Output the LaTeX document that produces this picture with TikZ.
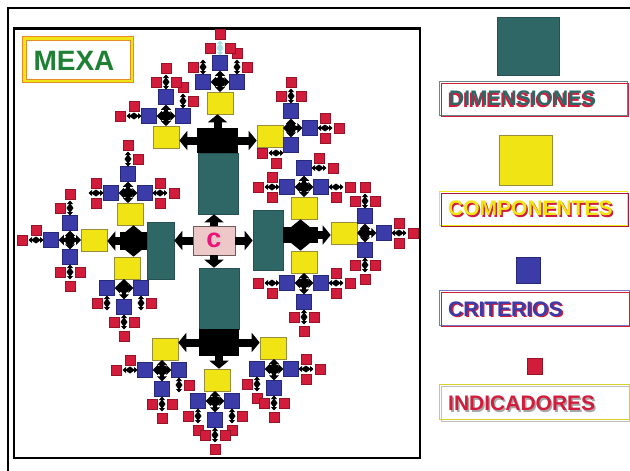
\documentclass[tikz,border=0pt]{standalone}
\usepackage{fontspec}
\setmainfont{Liberation Sans}
\usetikzlibrary{calc,arrows.meta}
\definecolor{tealc}{RGB}{46,103,101}
\definecolor{tealb}{RGB}{40,80,80}
\definecolor{yellowc}{RGB}{240,228,20}
\definecolor{yelb}{RGB}{150,140,60}
\definecolor{bluec}{RGB}{60,60,168}
\definecolor{blub}{RGB}{40,40,120}
\definecolor{redc}{RGB}{210,28,60}
\definecolor{redb}{RGB}{150,20,40}
\definecolor{pinkc}{RGB}{236,200,200}
\definecolor{pinkb}{RGB}{110,90,90}
\definecolor{magc}{RGB}{235,20,120}
\definecolor{mexag}{RGB}{30,128,50}
\definecolor{orangec}{RGB}{232,140,40}
\definecolor{cyanc}{RGB}{170,225,230}

\newcommand\comp[6]{%
  \node[yel] (#1y) at (#2,#3) {};
  \coordinate (#1c) at ($(#1y.center)+(#4:#6)+(#4+90:#5)$);
  \node[blu] (#1a) at ($(#1c)+(#4+90:17)$) {};
  \node[blu] (#1b) at ($(#1c)+(#4-90:17)$) {};
  \node[blu] (#1f) at ($(#1c)+(#4:19)$) {};
  \pgfmathsetmacro\backlen{#6-13*abs(cos(#4))-11*abs(sin(#4))}%
  \draw[crs] (#1c) -- (#1a);
  \draw[crs] (#1c) -- (#1b);
  \draw[crs] (#1c) -- (#1f);
  \draw[crs] (#1c) -- ++(#4+180:\backlen);
  \fill (#1c) circle[radius=5.5pt];
}
\newcommand\grp[4][black]{%
  \draw[ind,#1] ($(#2)+(#3:7.5)$) -- ($(#2)+(#3:22.5)$);
  \fill[#1] ($(#2)+(#3:10)$) -- ($(#2)+(#3:15)+(#3+90:3.5)$) -- ($(#2)+(#3:20)$) -- ($(#2)+(#3:15)+(#3-90:3.5)$) -- cycle;
  \foreach \k in {#4} {
    \pgfmathsetmacro\rr{ifthenelse(\k==0,29,15)}
    \node[redsq] (#2r\k) at ($(#2)+(#3:\rr)+(#3+90:10*\k)$) {};
  }
}

\begin{document}
\begin{tikzpicture}[x=1pt,y=-1pt,
  yel/.style={rectangle, draw=yelb, line width=0.6pt, fill=yellowc, minimum width=26pt, minimum height=22pt, inner sep=0pt},
  blu/.style={rectangle, draw=blub, line width=0.5pt, fill=bluec, minimum width=15pt, minimum height=15pt, inner sep=0pt},
  redsq/.style={rectangle, draw=redb, line width=0.4pt, fill=redc, minimum width=10pt, minimum height=10pt, inner sep=0pt},
  dim/.style={rectangle, draw=tealb, line width=0.6pt, fill=tealc, inner sep=0pt},
  head/.style={rectangle, fill=black, inner sep=0pt},
  blk/.style={line width=8pt, -{Triangle[width=19pt,length=8pt]}},
  crs/.style={line width=4pt, -{Triangle[width=10pt,length=5pt]}},
  ind/.style={line width=1.8pt, {Triangle[width=6pt,length=3.5pt]}-{Triangle[width=6pt,length=3.5pt]}},
  lbl/.style={anchor=west, inner sep=0pt, font=\fontsize{21pt}{21pt}\selectfont\bfseries},
]
\useasboundingbox (0,0) rectangle (630,471);
\fill[white] (0,0) rectangle (630,471);

% frames
\draw[line width=2.2pt] (7,8) -- (630,8);
\draw[line width=2.2pt] (8,8) -- (8,471);
\draw[line width=2.5pt] (14,28.5) rectangle (420,458);

% MEXA
\draw[orangec, line width=0.8pt] (22.5,36.5) rectangle (133.5,82.5);
\draw[yellowc, line width=2.4pt] (24.5,38.5) rectangle (131.5,80.5);
\draw[orangec, line width=0.6pt] (26.2,40.2) rectangle (129.8,78.8);
\node[text=mexag, font=\fontsize{28pt}{28pt}\selectfont\bfseries, inner sep=0pt] (mexa) at (74,61) {MEXA};

% center
\node[rectangle, draw=pinkb, line width=0.8pt, fill=pinkc, minimum width=42pt, minimum height=29pt, inner sep=0pt, text=magc, font=\fontsize{27pt}{27pt}\selectfont\bfseries] (C) at (214,240.5) {c};

% dimensions
\node[dim, minimum width=40pt, minimum height=61pt] (dimT) at (218,183.5) {};
\node[head, minimum width=41pt, minimum height=25pt] (headT) at (217.5,140.5) {};
\node[dim, minimum width=40pt, minimum height=61pt] (dimB) at (219,298.5) {};
\node[head, minimum width=40pt, minimum height=27pt] (headB) at (219,342.5) {};
\node[dim, minimum width=27pt, minimum height=57pt] (dimL) at (160.5,250.5) {};
\node[head, minimum width=27pt, minimum height=18pt] (headL) at (133.5,241) {};
\node[dim, minimum width=30pt, minimum height=60pt] (dimR) at (268,240) {};
\node[head, minimum width=35pt, minimum height=16pt] (headR) at (300.5,235) {};

\draw[blk] (C.north) -- (C.north |- dimT.south);
\draw[blk] (C.south) -- (C.south |- dimB.north);
\draw[blk] (C.west) -- (C.west -| dimL.east);
\draw[blk] (C.east) -- (C.east -| dimR.west);

% components
\comp{T1}{220}{103}{270}{0}{21}
\comp{T2}{166}{137}{270}{0}{21}
\comp{T3}{270}{136}{0}{-8}{21}
\comp{R1}{304}{208}{270}{0}{21}
\comp{R2}{344}{233}{0}{0}{21}
\comp{R3}{304}{262}{90}{0}{21}
\comp{B1}{165}{349}{90}{3}{21}
\comp{B2}{217}{380}{90}{2}{21}
\comp{B3}{273}{348}{90}{-1}{21}
\comp{L1}{130}{214}{270}{-2}{21}
\comp{L2}{94}{240}{180}{0}{24}
\comp{L3}{127}{268}{90}{3}{20}

% dimension heads to components
\draw[blk] (headT.center) -- (headT.center |- T1y.south);
\draw[blk] (headT.center) -- (headT.center -| T2y.east);
\draw[blk] (headT.center) -- (headT.center -| T3y.west);
\draw[blk] (headB.center) -- (headB.center -| B1y.east);
\draw[blk] (headB.center) -- (headB.center |- B2y.north);
\draw[blk] (headB.center) -- (headB.center -| B3y.west);
\draw[blk] (headL.center) -- (headL.center |- L1y.south);
\draw[blk] (headL.center) -- (headL.center -| L2y.east);
\draw[blk] (headL.center) -- (headL.center |- L3y.north);
\draw[blk] (headR.center) -- (headR.center |- R1y.south);
\draw[blk] (headR.center) -- (headR.center -| R2y.west);
\draw[blk] (headR.center) -- (headR.center |- R3y.north);

% indicator groups
\grp{T1a}{270}{1,0}
\grp{T1b}{270}{-1}
\grp[cyanc]{T1f}{270}{-1,1,0}
\grp{T2a}{270}{1,0}
\grp{T2b}{180}{1,0}
\grp{T2f}{270}{-1,1,0}
\coordinate (T3o) at (291,153);
\grp{T3o}{180}{-1,0}
\grp{T3b}{270}{-1,1,0}
\grp{T3f}{0}{-1,1,0}
\grp{R1a}{0}{1,0}
\grp{R1b}{180}{-1,1,0}
\grp{R1f}{0}{-1,0}
\grp{R2a}{90}{-1,1,0}
\grp{R2b}{270}{-1,1,0}
\grp{R2f}{0}{-1,1,0}
\grp{R3a}{180}{-1,0}
\grp{R3b}{0}{-1,1,0}
\grp{R3f}{90}{-1,1,0}
\grp{B1a}{180}{1,0}
\grp{B1b}{90}{-1}
\grp{B1f}{90}{-1,1,0}
\grp{B2a}{90}{1,0}
\grp{B2b}{90}{-1,0}
\grp{B2f}{90}{-1,1,0}
\grp{B3a}{90}{1,0}
\grp{B3b}{0}{-1,1,0}
\grp{B3f}{90}{-1,1,0}
\grp{L1a}{0}{-1,1,0}
\grp{L1b}{180}{-1,1}
\grp{L1f}{270}{1,0}
\grp{L2a}{270}{-1,0}
\grp{L2b}{90}{-1,1,0}
\grp{L2f}{180}{1,0}
\grp{L3a}{90}{1}
\grp{L3b}{90}{-1}
\grp{L3f}{90}{-1,1,0}

% legend
\node[dim, minimum width=62pt, minimum height=58pt] (lgD) at (528,46) {};
\node[yel, minimum width=53pt, minimum height=50pt] (lgC) at (525.5,160) {};
\node[blu, minimum width=24pt, minimum height=26pt] (lgK) at (528,270) {};
\node[redsq, minimum width=15pt, minimum height=16pt] (lgI) at (534.5,366) {};

\draw[tealb!70, line width=0.8pt] (439.5,81.5) rectangle (627.5,115.5);
\draw[redc, line width=0.8pt] (441,83) rectangle (628.5,116.5);
\node[lbl, text=redc] at (447.5,100) {DIMENSIONES};
\node[lbl, text=tealc] (tD) at (449,98.5) {DIMENSIONES};

\draw[yellowc, line width=0.9pt] (439.5,191.5) rectangle (627.5,225.5);
\draw[redc!80!black, line width=0.7pt] (441,193) rectangle (628.5,226.5);
\node[lbl, text=redc] at (449.5,210) {COMPONENTES};
\node[lbl, text=yellowc] (tC) at (448,208.5) {COMPONENTES};

\draw[bluec!70, line width=0.8pt] (439.5,290.5) rectangle (629,325.5);
\draw[redc, line width=0.7pt] (441,292) rectangle (629.5,326.5);
\node[lbl, text=redc] at (449.5,310.5) {CRITERIOS};
\node[lbl, text=bluec] (tK) at (448,309) {CRITERIOS};

\draw[gray!50, line width=0.8pt] (441,386) rectangle (629.5,421);
\draw[yellowc!80!gray, line width=1pt] (439.5,384.5) rectangle (629,419.5);
\node[lbl, text=gray!70] at (449.5,405) {INDICADORES};
\node[lbl, text=redc] (tI) at (448,403.5) {INDICADORES};
\end{tikzpicture}
\end{document}
